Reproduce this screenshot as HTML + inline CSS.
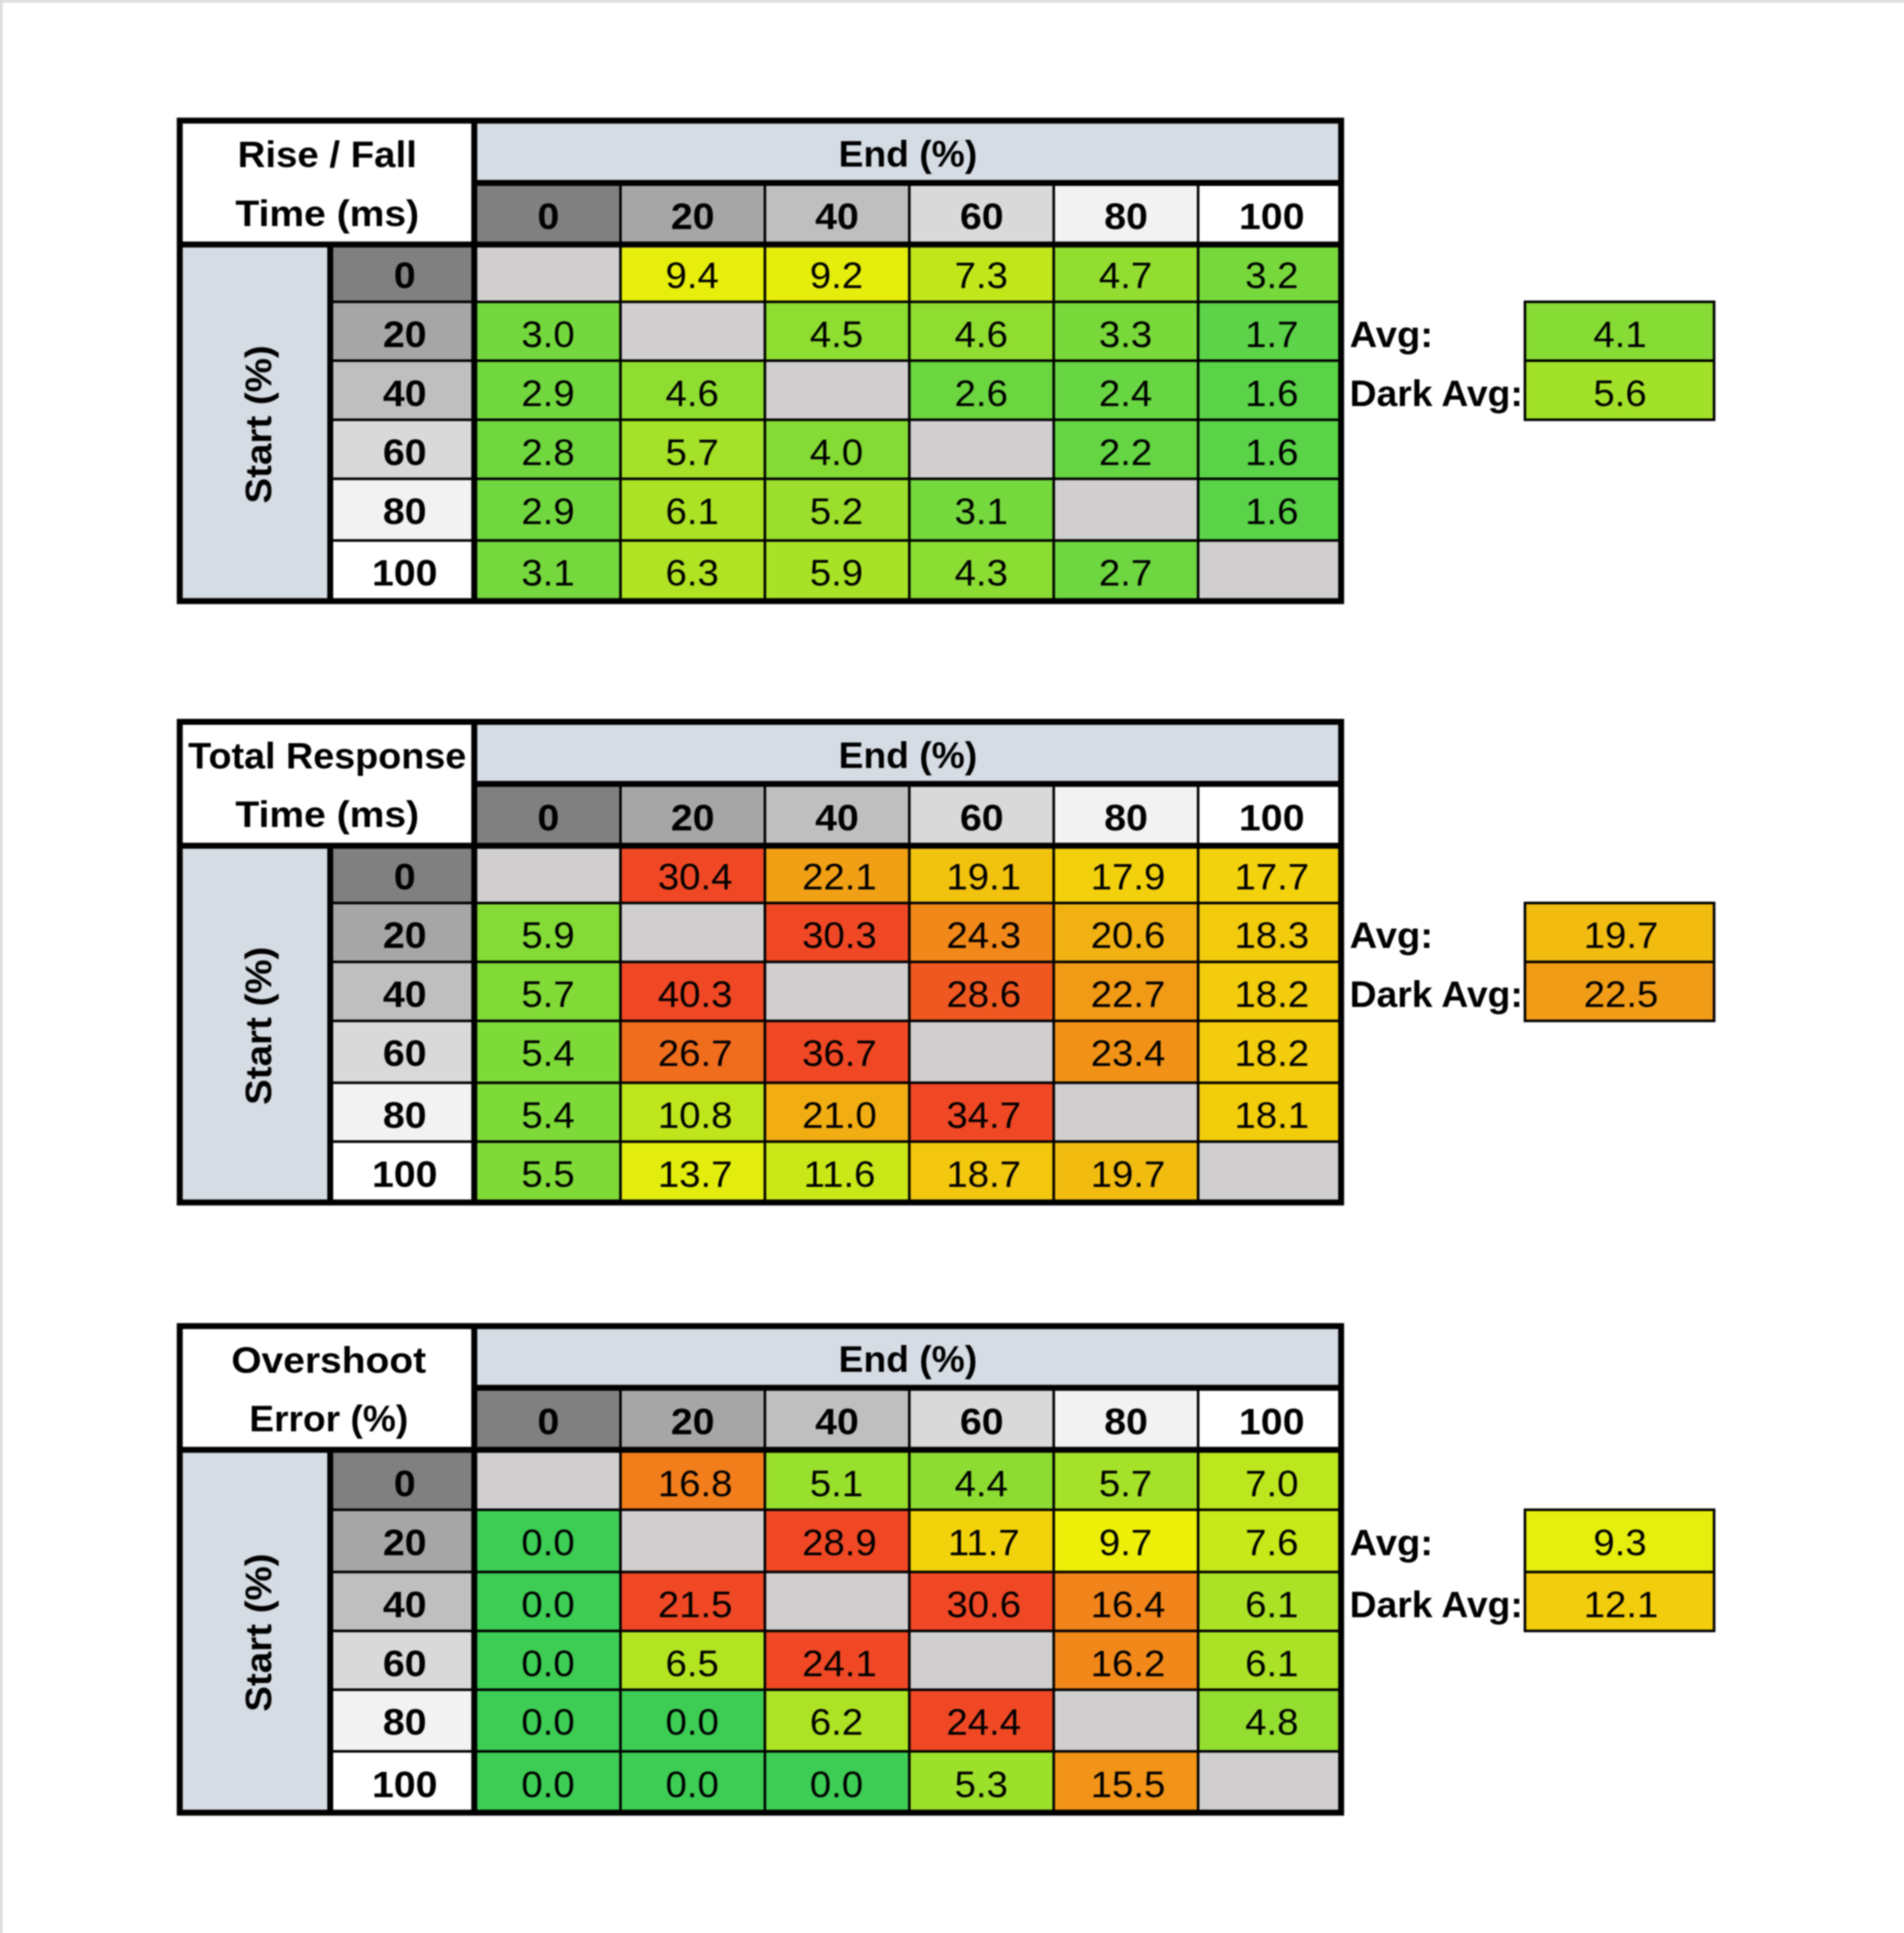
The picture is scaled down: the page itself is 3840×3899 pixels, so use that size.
<!DOCTYPE html>
<html lang="en"><head><meta charset="utf-8"><title>Response time tables</title>
<style>

html,body{margin:0;padding:0;background:#fff}
body{width:3840px;height:3899px;position:relative;overflow:hidden;font-family:"Liberation Sans",Arial,sans-serif;color:#000}
#stage{position:absolute;left:-40px;top:-40px;width:3920px;height:3979px;filter:blur(1.5px)}
#inner{position:absolute;left:40px;top:40px;width:3840px;height:3899px}
svg{position:absolute;left:0;top:0;overflow:visible}
.t{position:absolute;line-height:100px;height:100px;white-space:nowrap;text-align:center;font-size:74px}
.b{font-weight:bold;font-size:74px}
.l{text-align:left;transform-origin:0 50%}


</style></head><body><div id="stage"><div id="inner">
<svg width="3840" height="3899" viewBox="0 0 3840 3899">
<rect x="-40" y="-40" width="3920" height="45.5" fill="#dedede"/>
<rect x="-40" y="-40" width="45.5" height="3979" fill="#dedede"/>
<rect x="356.50" y="237.30" width="2354.30" height="981.20" fill="#000"/>
<rect x="368.50" y="249.30" width="582.00" height="237.90" fill="#fff"/>
<rect x="962.50" y="249.30" width="1736.30" height="113.70" fill="#d6dce4"/>
<rect x="962.50" y="375.00" width="286.30" height="112.20" fill="#808080"/>
<rect x="1254.00" y="375.00" width="286.05" height="112.20" fill="#a6a6a6"/>
<rect x="1545.25" y="375.00" width="286.05" height="112.20" fill="#bfbfbf"/>
<rect x="1836.50" y="375.00" width="286.05" height="112.20" fill="#d9d9d9"/>
<rect x="2127.75" y="375.00" width="286.05" height="112.20" fill="#f2f2f2"/>
<rect x="2419.00" y="375.00" width="279.80" height="112.20" fill="#ffffff"/>
<rect x="368.50" y="499.20" width="291.50" height="707.30" fill="#d6dce4"/>
<rect x="672.00" y="499.20" width="278.50" height="107.00" fill="#808080"/>
<rect x="962.50" y="499.20" width="286.30" height="107.00" fill="#d0cece"/>
<rect x="1254.00" y="499.20" width="286.05" height="107.00" fill="#e7ee0b"/>
<rect x="1545.25" y="499.20" width="286.05" height="107.00" fill="#e4ed0c"/>
<rect x="1836.50" y="499.20" width="286.05" height="107.00" fill="#c1e71b"/>
<rect x="2127.75" y="499.20" width="286.05" height="107.00" fill="#92dd30"/>
<rect x="2419.00" y="499.20" width="279.80" height="107.00" fill="#77d83c"/>
<rect x="672.00" y="611.40" width="278.50" height="113.50" fill="#a6a6a6"/>
<rect x="962.50" y="611.40" width="286.30" height="113.50" fill="#73d83d"/>
<rect x="1254.00" y="611.40" width="286.05" height="113.50" fill="#d0cece"/>
<rect x="1545.25" y="611.40" width="286.05" height="113.50" fill="#8edd31"/>
<rect x="1836.50" y="611.40" width="286.05" height="113.50" fill="#90dd31"/>
<rect x="2127.75" y="611.40" width="286.05" height="113.50" fill="#79d93b"/>
<rect x="2419.00" y="611.40" width="279.80" height="113.50" fill="#5cd348"/>
<rect x="672.00" y="730.10" width="278.50" height="114.00" fill="#bfbfbf"/>
<rect x="962.50" y="730.10" width="286.30" height="114.00" fill="#71d73e"/>
<rect x="1254.00" y="730.10" width="286.05" height="114.00" fill="#90dd31"/>
<rect x="1545.25" y="730.10" width="286.05" height="114.00" fill="#d0cece"/>
<rect x="1836.50" y="730.10" width="286.05" height="114.00" fill="#6cd640"/>
<rect x="2127.75" y="730.10" width="286.05" height="114.00" fill="#68d542"/>
<rect x="2419.00" y="730.10" width="279.80" height="114.00" fill="#5ad348"/>
<rect x="672.00" y="849.30" width="278.50" height="113.90" fill="#d9d9d9"/>
<rect x="962.50" y="849.30" width="286.30" height="113.90" fill="#70d73f"/>
<rect x="1254.00" y="849.30" width="286.05" height="113.90" fill="#a4e128"/>
<rect x="1545.25" y="849.30" width="286.05" height="113.90" fill="#85db35"/>
<rect x="1836.50" y="849.30" width="286.05" height="113.90" fill="#d0cece"/>
<rect x="2127.75" y="849.30" width="286.05" height="113.90" fill="#65d544"/>
<rect x="2419.00" y="849.30" width="279.80" height="113.90" fill="#5ad348"/>
<rect x="672.00" y="968.40" width="278.50" height="119.20" fill="#f2f2f2"/>
<rect x="962.50" y="968.40" width="286.30" height="119.20" fill="#71d73e"/>
<rect x="1254.00" y="968.40" width="286.05" height="119.20" fill="#abe225"/>
<rect x="1545.25" y="968.40" width="286.05" height="119.20" fill="#9bdf2c"/>
<rect x="1836.50" y="968.40" width="286.05" height="119.20" fill="#75d83d"/>
<rect x="2127.75" y="968.40" width="286.05" height="119.20" fill="#d0cece"/>
<rect x="2419.00" y="968.40" width="279.80" height="119.20" fill="#5ad348"/>
<rect x="672.00" y="1092.80" width="278.50" height="113.70" fill="#ffffff"/>
<rect x="962.50" y="1092.80" width="286.30" height="113.70" fill="#75d83d"/>
<rect x="1254.00" y="1092.80" width="286.05" height="113.70" fill="#afe323"/>
<rect x="1545.25" y="1092.80" width="286.05" height="113.70" fill="#a8e226"/>
<rect x="1836.50" y="1092.80" width="286.05" height="113.70" fill="#8bdc33"/>
<rect x="2127.75" y="1092.80" width="286.05" height="113.70" fill="#6ed640"/>
<rect x="2419.00" y="1092.80" width="279.80" height="113.70" fill="#d0cece"/>
<rect x="3072.90" y="606.20" width="386.70" height="243.10" fill="#000"/>
<rect x="3078.10" y="611.40" width="376.30" height="113.50" fill="#87db35"/>
<rect x="3078.10" y="730.10" width="376.30" height="114.00" fill="#a2e129"/>
<rect x="356.50" y="1450.00" width="2354.30" height="981.50" fill="#000"/>
<rect x="368.50" y="1462.00" width="582.00" height="237.90" fill="#fff"/>
<rect x="962.50" y="1462.00" width="1736.30" height="113.20" fill="#d6dce4"/>
<rect x="962.50" y="1587.20" width="286.30" height="112.70" fill="#808080"/>
<rect x="1254.00" y="1587.20" width="286.05" height="112.70" fill="#a6a6a6"/>
<rect x="1545.25" y="1587.20" width="286.05" height="112.70" fill="#bfbfbf"/>
<rect x="1836.50" y="1587.20" width="286.05" height="112.70" fill="#d9d9d9"/>
<rect x="2127.75" y="1587.20" width="286.05" height="112.70" fill="#f2f2f2"/>
<rect x="2419.00" y="1587.20" width="279.80" height="112.70" fill="#ffffff"/>
<rect x="368.50" y="1711.90" width="291.50" height="707.60" fill="#d6dce4"/>
<rect x="672.00" y="1711.90" width="278.50" height="106.90" fill="#808080"/>
<rect x="962.50" y="1711.90" width="286.30" height="106.90" fill="#d0cece"/>
<rect x="1254.00" y="1711.90" width="286.05" height="106.90" fill="#f04825"/>
<rect x="1545.25" y="1711.90" width="286.05" height="106.90" fill="#f1a015"/>
<rect x="1836.50" y="1711.90" width="286.05" height="106.90" fill="#f1c20e"/>
<rect x="2127.75" y="1711.90" width="286.05" height="106.90" fill="#f2d00c"/>
<rect x="2419.00" y="1711.90" width="279.80" height="106.90" fill="#f2d20c"/>
<rect x="672.00" y="1824.00" width="278.50" height="113.60" fill="#a6a6a6"/>
<rect x="962.50" y="1824.00" width="286.30" height="113.60" fill="#84db36"/>
<rect x="1254.00" y="1824.00" width="286.05" height="113.60" fill="#d0cece"/>
<rect x="1545.25" y="1824.00" width="286.05" height="113.60" fill="#f04825"/>
<rect x="1836.50" y="1824.00" width="286.05" height="113.60" fill="#f18819"/>
<rect x="2127.75" y="1824.00" width="286.05" height="113.60" fill="#f1b112"/>
<rect x="2419.00" y="1824.00" width="279.80" height="113.60" fill="#f2cb0d"/>
<rect x="672.00" y="1942.80" width="278.50" height="113.80" fill="#bfbfbf"/>
<rect x="962.50" y="1942.80" width="286.30" height="113.80" fill="#82da37"/>
<rect x="1254.00" y="1942.80" width="286.05" height="113.80" fill="#f04825"/>
<rect x="1545.25" y="1942.80" width="286.05" height="113.80" fill="#d0cece"/>
<rect x="1836.50" y="1942.80" width="286.05" height="113.80" fill="#f05822"/>
<rect x="2127.75" y="1942.80" width="286.05" height="113.80" fill="#f19a16"/>
<rect x="2419.00" y="1942.80" width="279.80" height="113.80" fill="#f2cc0d"/>
<rect x="672.00" y="2061.80" width="278.50" height="119.60" fill="#d9d9d9"/>
<rect x="962.50" y="2061.80" width="286.30" height="119.60" fill="#7eda39"/>
<rect x="1254.00" y="2061.80" width="286.05" height="119.60" fill="#f06d1e"/>
<rect x="1545.25" y="2061.80" width="286.05" height="119.60" fill="#f04825"/>
<rect x="1836.50" y="2061.80" width="286.05" height="119.60" fill="#d0cece"/>
<rect x="2127.75" y="2061.80" width="286.05" height="119.60" fill="#f19217"/>
<rect x="2419.00" y="2061.80" width="279.80" height="119.60" fill="#f2cc0d"/>
<rect x="672.00" y="2186.60" width="278.50" height="113.50" fill="#f2f2f2"/>
<rect x="962.50" y="2186.60" width="286.30" height="113.50" fill="#7eda39"/>
<rect x="1254.00" y="2186.60" width="286.05" height="113.50" fill="#bfe61c"/>
<rect x="1545.25" y="2186.60" width="286.05" height="113.50" fill="#f1ad12"/>
<rect x="1836.50" y="2186.60" width="286.05" height="113.50" fill="#f04825"/>
<rect x="2127.75" y="2186.60" width="286.05" height="113.50" fill="#d0cece"/>
<rect x="2419.00" y="2186.60" width="279.80" height="113.50" fill="#f2cd0c"/>
<rect x="672.00" y="2305.30" width="278.50" height="114.20" fill="#ffffff"/>
<rect x="962.50" y="2305.30" width="286.30" height="114.20" fill="#7fda38"/>
<rect x="1254.00" y="2305.30" width="286.05" height="114.20" fill="#e2ed0d"/>
<rect x="1545.25" y="2305.30" width="286.05" height="114.20" fill="#c9e818"/>
<rect x="1836.50" y="2305.30" width="286.05" height="114.20" fill="#f2c70e"/>
<rect x="2127.75" y="2305.30" width="286.05" height="114.20" fill="#f1bb10"/>
<rect x="2419.00" y="2305.30" width="279.80" height="114.20" fill="#d0cece"/>
<rect x="3072.90" y="1818.80" width="386.70" height="243.00" fill="#000"/>
<rect x="3078.10" y="1824.00" width="376.30" height="113.60" fill="#f1bb10"/>
<rect x="3078.10" y="1942.80" width="376.30" height="113.80" fill="#f19c16"/>
<rect x="356.50" y="2668.80" width="2354.30" height="993.50" fill="#000"/>
<rect x="368.50" y="2680.80" width="582.00" height="237.60" fill="#fff"/>
<rect x="962.50" y="2680.80" width="1736.30" height="112.50" fill="#d6dce4"/>
<rect x="962.50" y="2805.30" width="286.30" height="113.10" fill="#808080"/>
<rect x="1254.00" y="2805.30" width="286.05" height="113.10" fill="#a6a6a6"/>
<rect x="1545.25" y="2805.30" width="286.05" height="113.10" fill="#bfbfbf"/>
<rect x="1836.50" y="2805.30" width="286.05" height="113.10" fill="#d9d9d9"/>
<rect x="2127.75" y="2805.30" width="286.05" height="113.10" fill="#f2f2f2"/>
<rect x="2419.00" y="2805.30" width="279.80" height="113.10" fill="#ffffff"/>
<rect x="368.50" y="2930.40" width="291.50" height="719.90" fill="#d6dce4"/>
<rect x="672.00" y="2930.40" width="278.50" height="112.30" fill="#808080"/>
<rect x="962.50" y="2930.40" width="286.30" height="112.30" fill="#d0cece"/>
<rect x="1254.00" y="2930.40" width="286.05" height="112.30" fill="#f17e1b"/>
<rect x="1545.25" y="2930.40" width="286.05" height="112.30" fill="#99df2d"/>
<rect x="1836.50" y="2930.40" width="286.05" height="112.30" fill="#8ddc32"/>
<rect x="2127.75" y="2930.40" width="286.05" height="112.30" fill="#a4e128"/>
<rect x="2419.00" y="2930.40" width="279.80" height="112.30" fill="#bce61e"/>
<rect x="672.00" y="3047.90" width="278.50" height="120.30" fill="#a6a6a6"/>
<rect x="962.50" y="3047.90" width="286.30" height="120.30" fill="#3dcd55"/>
<rect x="1254.00" y="3047.90" width="286.05" height="120.30" fill="#d0cece"/>
<rect x="1545.25" y="3047.90" width="286.05" height="120.30" fill="#f04825"/>
<rect x="1836.50" y="3047.90" width="286.05" height="120.30" fill="#f2d30b"/>
<rect x="2127.75" y="3047.90" width="286.05" height="120.30" fill="#edef08"/>
<rect x="2419.00" y="3047.90" width="279.80" height="120.30" fill="#c7e819"/>
<rect x="672.00" y="3173.40" width="278.50" height="113.70" fill="#bfbfbf"/>
<rect x="962.50" y="3173.40" width="286.30" height="113.70" fill="#3dcd55"/>
<rect x="1254.00" y="3173.40" width="286.05" height="113.70" fill="#f04825"/>
<rect x="1545.25" y="3173.40" width="286.05" height="113.70" fill="#d0cece"/>
<rect x="1836.50" y="3173.40" width="286.05" height="113.70" fill="#f04825"/>
<rect x="2127.75" y="3173.40" width="286.05" height="113.70" fill="#f1841a"/>
<rect x="2419.00" y="3173.40" width="279.80" height="113.70" fill="#abe225"/>
<rect x="672.00" y="3292.30" width="278.50" height="113.40" fill="#d9d9d9"/>
<rect x="962.50" y="3292.30" width="286.30" height="113.40" fill="#3dcd55"/>
<rect x="1254.00" y="3292.30" width="286.05" height="113.40" fill="#b3e422"/>
<rect x="1545.25" y="3292.30" width="286.05" height="113.40" fill="#f04825"/>
<rect x="1836.50" y="3292.30" width="286.05" height="113.40" fill="#d0cece"/>
<rect x="2127.75" y="3292.30" width="286.05" height="113.40" fill="#f18819"/>
<rect x="2419.00" y="3292.30" width="279.80" height="113.40" fill="#abe225"/>
<rect x="672.00" y="3410.90" width="278.50" height="119.10" fill="#f2f2f2"/>
<rect x="962.50" y="3410.90" width="286.30" height="119.10" fill="#3dcd55"/>
<rect x="1254.00" y="3410.90" width="286.05" height="119.10" fill="#3dcd55"/>
<rect x="1545.25" y="3410.90" width="286.05" height="119.10" fill="#ade324"/>
<rect x="1836.50" y="3410.90" width="286.05" height="119.10" fill="#f04825"/>
<rect x="2127.75" y="3410.90" width="286.05" height="119.10" fill="#d0cece"/>
<rect x="2419.00" y="3410.90" width="279.80" height="119.10" fill="#94de2f"/>
<rect x="672.00" y="3535.20" width="278.50" height="115.10" fill="#ffffff"/>
<rect x="962.50" y="3535.20" width="286.30" height="115.10" fill="#3dcd55"/>
<rect x="1254.00" y="3535.20" width="286.05" height="115.10" fill="#3dcd55"/>
<rect x="1545.25" y="3535.20" width="286.05" height="115.10" fill="#3dcd55"/>
<rect x="1836.50" y="3535.20" width="286.05" height="115.10" fill="#9de02b"/>
<rect x="2127.75" y="3535.20" width="286.05" height="115.10" fill="#f19417"/>
<rect x="2419.00" y="3535.20" width="279.80" height="115.10" fill="#d0cece"/>
<rect x="3072.90" y="3042.70" width="386.70" height="249.60" fill="#000"/>
<rect x="3078.10" y="3047.90" width="376.30" height="120.30" fill="#e5ee0c"/>
<rect x="3078.10" y="3173.40" width="376.30" height="113.70" fill="#f2cd0d"/>
</svg>
<div class="t b" style="left:368.50px;top:261.86px;width:582.00px;transform:scaleX(1.046);">Rise / Fall</div>
<div class="t b" style="left:368.50px;top:380.61px;width:582.00px;transform:scaleX(1.064);">Time (ms)</div>
<div class="t b" style="left:962.50px;top:261.36px;width:1736.30px;transform:scaleX(1.015);">End (%)</div>
<div class="t b" style="left:962.50px;top:387.06px;width:286.30px;transform:scaleX(1.07);">0</div>
<div class="t b" style="left:1254.00px;top:387.06px;width:286.05px;transform:scaleX(1.07);">20</div>
<div class="t b" style="left:1545.25px;top:387.06px;width:286.05px;transform:scaleX(1.07);">40</div>
<div class="t b" style="left:1836.50px;top:387.06px;width:286.05px;transform:scaleX(1.07);">60</div>
<div class="t b" style="left:2127.75px;top:387.06px;width:286.05px;transform:scaleX(1.07);">80</div>
<div class="t b" style="left:2424.50px;top:387.06px;width:279.80px;transform:scaleX(1.07);">100</div>
<div class="t b" style="left:676.50px;top:506.06px;width:278.50px;transform:scaleX(1.07);">0</div>
<div class="t" style="left:1253.00px;top:506.06px;width:286.05px;transform:scaleX(1.045);">9.4</div>
<div class="t" style="left:1544.25px;top:506.06px;width:286.05px;transform:scaleX(1.045);">9.2</div>
<div class="t" style="left:1835.50px;top:506.06px;width:286.05px;transform:scaleX(1.045);">7.3</div>
<div class="t" style="left:2126.75px;top:506.06px;width:286.05px;transform:scaleX(1.045);">4.7</div>
<div class="t" style="left:2424.50px;top:506.06px;width:279.80px;transform:scaleX(1.045);">3.2</div>
<div class="t b" style="left:676.50px;top:624.76px;width:278.50px;transform:scaleX(1.07);">20</div>
<div class="t" style="left:961.50px;top:624.76px;width:286.30px;transform:scaleX(1.045);">3.0</div>
<div class="t" style="left:1544.25px;top:624.76px;width:286.05px;transform:scaleX(1.045);">4.5</div>
<div class="t" style="left:1835.50px;top:624.76px;width:286.05px;transform:scaleX(1.045);">4.6</div>
<div class="t" style="left:2126.75px;top:624.76px;width:286.05px;transform:scaleX(1.045);">3.3</div>
<div class="t" style="left:2424.50px;top:624.76px;width:279.80px;transform:scaleX(1.045);">1.7</div>
<div class="t b l" style="left:2722.00px;top:624.76px;width:353.50px;transform:scaleX(1.039);">Avg:</div>
<div class="t" style="left:3079.10px;top:624.76px;width:376.30px;transform:scaleX(1.045);">4.1</div>
<div class="t b" style="left:676.50px;top:743.96px;width:278.50px;transform:scaleX(1.07);">40</div>
<div class="t" style="left:961.50px;top:743.96px;width:286.30px;transform:scaleX(1.045);">2.9</div>
<div class="t" style="left:1253.00px;top:743.96px;width:286.05px;transform:scaleX(1.045);">4.6</div>
<div class="t" style="left:1835.50px;top:743.96px;width:286.05px;transform:scaleX(1.045);">2.6</div>
<div class="t" style="left:2126.75px;top:743.96px;width:286.05px;transform:scaleX(1.045);">2.4</div>
<div class="t" style="left:2424.50px;top:743.96px;width:279.80px;transform:scaleX(1.045);">1.6</div>
<div class="t b l" style="left:2722.00px;top:743.96px;width:353.50px;transform:scaleX(1.015);">Dark Avg:</div>
<div class="t" style="left:3079.10px;top:743.96px;width:376.30px;transform:scaleX(1.045);">5.6</div>
<div class="t b" style="left:676.50px;top:863.06px;width:278.50px;transform:scaleX(1.07);">60</div>
<div class="t" style="left:961.50px;top:863.06px;width:286.30px;transform:scaleX(1.045);">2.8</div>
<div class="t" style="left:1253.00px;top:863.06px;width:286.05px;transform:scaleX(1.045);">5.7</div>
<div class="t" style="left:1544.25px;top:863.06px;width:286.05px;transform:scaleX(1.045);">4.0</div>
<div class="t" style="left:2126.75px;top:863.06px;width:286.05px;transform:scaleX(1.045);">2.2</div>
<div class="t" style="left:2424.50px;top:863.06px;width:279.80px;transform:scaleX(1.045);">1.6</div>
<div class="t b" style="left:676.50px;top:981.66px;width:278.50px;transform:scaleX(1.07);">80</div>
<div class="t" style="left:961.50px;top:981.66px;width:286.30px;transform:scaleX(1.045);">2.9</div>
<div class="t" style="left:1253.00px;top:981.66px;width:286.05px;transform:scaleX(1.045);">6.1</div>
<div class="t" style="left:1544.25px;top:981.66px;width:286.05px;transform:scaleX(1.045);">5.2</div>
<div class="t" style="left:1835.50px;top:981.66px;width:286.05px;transform:scaleX(1.045);">3.1</div>
<div class="t" style="left:2424.50px;top:981.66px;width:279.80px;transform:scaleX(1.045);">1.6</div>
<div class="t b" style="left:676.50px;top:1106.36px;width:278.50px;transform:scaleX(1.07);">100</div>
<div class="t" style="left:961.50px;top:1106.36px;width:286.30px;transform:scaleX(1.045);">3.1</div>
<div class="t" style="left:1253.00px;top:1106.36px;width:286.05px;transform:scaleX(1.045);">6.3</div>
<div class="t" style="left:1544.25px;top:1106.36px;width:286.05px;transform:scaleX(1.045);">5.9</div>
<div class="t" style="left:1835.50px;top:1106.36px;width:286.05px;transform:scaleX(1.045);">4.3</div>
<div class="t" style="left:2126.75px;top:1106.36px;width:286.05px;transform:scaleX(1.045);">2.7</div>
<div class="t b" style="left:222.36px;top:805.85px;width:600px;transform:rotate(-90deg) scaleX(1.05);">Start (%)</div>
<div class="t b" style="left:368.50px;top:1475.26px;width:582.00px;transform:scaleX(1.028);">Total Response</div>
<div class="t b" style="left:368.50px;top:1593.41px;width:582.00px;transform:scaleX(1.064);">Time (ms)</div>
<div class="t b" style="left:962.50px;top:1473.56px;width:1736.30px;transform:scaleX(1.015);">End (%)</div>
<div class="t b" style="left:962.50px;top:1599.76px;width:286.30px;transform:scaleX(1.07);">0</div>
<div class="t b" style="left:1254.00px;top:1599.76px;width:286.05px;transform:scaleX(1.07);">20</div>
<div class="t b" style="left:1545.25px;top:1599.76px;width:286.05px;transform:scaleX(1.07);">40</div>
<div class="t b" style="left:1836.50px;top:1599.76px;width:286.05px;transform:scaleX(1.07);">60</div>
<div class="t b" style="left:2127.75px;top:1599.76px;width:286.05px;transform:scaleX(1.07);">80</div>
<div class="t b" style="left:2424.50px;top:1599.76px;width:279.80px;transform:scaleX(1.07);">100</div>
<div class="t b" style="left:676.50px;top:1718.66px;width:278.50px;transform:scaleX(1.07);">0</div>
<div class="t" style="left:1258.50px;top:1718.66px;width:286.05px;transform:scaleX(1.045);">30.4</div>
<div class="t" style="left:1549.75px;top:1718.66px;width:286.05px;transform:scaleX(1.045);">22.1</div>
<div class="t" style="left:1841.00px;top:1718.66px;width:286.05px;transform:scaleX(1.045);">19.1</div>
<div class="t" style="left:2132.25px;top:1718.66px;width:286.05px;transform:scaleX(1.045);">17.9</div>
<div class="t" style="left:2424.50px;top:1718.66px;width:279.80px;transform:scaleX(1.045);">17.7</div>
<div class="t b" style="left:676.50px;top:1837.46px;width:278.50px;transform:scaleX(1.07);">20</div>
<div class="t" style="left:961.50px;top:1837.46px;width:286.30px;transform:scaleX(1.045);">5.9</div>
<div class="t" style="left:1549.75px;top:1837.46px;width:286.05px;transform:scaleX(1.045);">30.3</div>
<div class="t" style="left:1841.00px;top:1837.46px;width:286.05px;transform:scaleX(1.045);">24.3</div>
<div class="t" style="left:2132.25px;top:1837.46px;width:286.05px;transform:scaleX(1.045);">20.6</div>
<div class="t" style="left:2424.50px;top:1837.46px;width:279.80px;transform:scaleX(1.045);">18.3</div>
<div class="t b l" style="left:2722.00px;top:1837.46px;width:353.50px;transform:scaleX(1.039);">Avg:</div>
<div class="t" style="left:3081.10px;top:1837.46px;width:376.30px;transform:scaleX(1.045);">19.7</div>
<div class="t b" style="left:676.50px;top:1956.46px;width:278.50px;transform:scaleX(1.07);">40</div>
<div class="t" style="left:961.50px;top:1956.46px;width:286.30px;transform:scaleX(1.045);">5.7</div>
<div class="t" style="left:1258.50px;top:1956.46px;width:286.05px;transform:scaleX(1.045);">40.3</div>
<div class="t" style="left:1841.00px;top:1956.46px;width:286.05px;transform:scaleX(1.045);">28.6</div>
<div class="t" style="left:2132.25px;top:1956.46px;width:286.05px;transform:scaleX(1.045);">22.7</div>
<div class="t" style="left:2424.50px;top:1956.46px;width:279.80px;transform:scaleX(1.045);">18.2</div>
<div class="t b l" style="left:2722.00px;top:1956.46px;width:353.50px;transform:scaleX(1.015);">Dark Avg:</div>
<div class="t" style="left:3081.10px;top:1956.46px;width:376.30px;transform:scaleX(1.045);">22.5</div>
<div class="t b" style="left:676.50px;top:2075.46px;width:278.50px;transform:scaleX(1.07);">60</div>
<div class="t" style="left:961.50px;top:2075.46px;width:286.30px;transform:scaleX(1.045);">5.4</div>
<div class="t" style="left:1258.50px;top:2075.46px;width:286.05px;transform:scaleX(1.045);">26.7</div>
<div class="t" style="left:1549.75px;top:2075.46px;width:286.05px;transform:scaleX(1.045);">36.7</div>
<div class="t" style="left:2132.25px;top:2075.46px;width:286.05px;transform:scaleX(1.045);">23.4</div>
<div class="t" style="left:2424.50px;top:2075.46px;width:279.80px;transform:scaleX(1.045);">18.2</div>
<div class="t b" style="left:676.50px;top:2199.96px;width:278.50px;transform:scaleX(1.07);">80</div>
<div class="t" style="left:961.50px;top:2199.96px;width:286.30px;transform:scaleX(1.045);">5.4</div>
<div class="t" style="left:1258.50px;top:2199.96px;width:286.05px;transform:scaleX(1.045);">10.8</div>
<div class="t" style="left:1549.75px;top:2199.96px;width:286.05px;transform:scaleX(1.045);">21.0</div>
<div class="t" style="left:1841.00px;top:2199.96px;width:286.05px;transform:scaleX(1.045);">34.7</div>
<div class="t" style="left:2424.50px;top:2199.96px;width:279.80px;transform:scaleX(1.045);">18.1</div>
<div class="t b" style="left:676.50px;top:2319.36px;width:278.50px;transform:scaleX(1.07);">100</div>
<div class="t" style="left:961.50px;top:2319.36px;width:286.30px;transform:scaleX(1.045);">5.5</div>
<div class="t" style="left:1258.50px;top:2319.36px;width:286.05px;transform:scaleX(1.045);">13.7</div>
<div class="t" style="left:1549.75px;top:2319.36px;width:286.05px;transform:scaleX(1.045);">11.6</div>
<div class="t" style="left:1841.00px;top:2319.36px;width:286.05px;transform:scaleX(1.045);">18.7</div>
<div class="t" style="left:2132.25px;top:2319.36px;width:286.05px;transform:scaleX(1.045);">19.7</div>
<div class="t b" style="left:222.36px;top:2018.70px;width:600px;transform:rotate(-90deg) scaleX(1.05);">Start (%)</div>
<div class="t b" style="left:372.00px;top:2693.66px;width:582.00px;transform:scaleX(1.062);">Overshoot</div>
<div class="t b" style="left:372.00px;top:2811.66px;width:582.00px;transform:scaleX(1.013);">Error (%)</div>
<div class="t b" style="left:962.50px;top:2691.66px;width:1736.30px;transform:scaleX(1.015);">End (%)</div>
<div class="t b" style="left:962.50px;top:2818.26px;width:286.30px;transform:scaleX(1.07);">0</div>
<div class="t b" style="left:1254.00px;top:2818.26px;width:286.05px;transform:scaleX(1.07);">20</div>
<div class="t b" style="left:1545.25px;top:2818.26px;width:286.05px;transform:scaleX(1.07);">40</div>
<div class="t b" style="left:1836.50px;top:2818.26px;width:286.05px;transform:scaleX(1.07);">60</div>
<div class="t b" style="left:2127.75px;top:2818.26px;width:286.05px;transform:scaleX(1.07);">80</div>
<div class="t b" style="left:2424.50px;top:2818.26px;width:279.80px;transform:scaleX(1.07);">100</div>
<div class="t b" style="left:676.50px;top:2942.56px;width:278.50px;transform:scaleX(1.07);">0</div>
<div class="t" style="left:1258.50px;top:2942.56px;width:286.05px;transform:scaleX(1.045);">16.8</div>
<div class="t" style="left:1544.25px;top:2942.56px;width:286.05px;transform:scaleX(1.045);">5.1</div>
<div class="t" style="left:1835.50px;top:2942.56px;width:286.05px;transform:scaleX(1.045);">4.4</div>
<div class="t" style="left:2126.75px;top:2942.56px;width:286.05px;transform:scaleX(1.045);">5.7</div>
<div class="t" style="left:2424.50px;top:2942.56px;width:279.80px;transform:scaleX(1.045);">7.0</div>
<div class="t b" style="left:676.50px;top:3062.26px;width:278.50px;transform:scaleX(1.07);">20</div>
<div class="t" style="left:961.50px;top:3062.26px;width:286.30px;transform:scaleX(1.045);">0.0</div>
<div class="t" style="left:1549.75px;top:3062.26px;width:286.05px;transform:scaleX(1.045);">28.9</div>
<div class="t" style="left:1841.00px;top:3062.26px;width:286.05px;transform:scaleX(1.045);">11.7</div>
<div class="t" style="left:2126.75px;top:3062.26px;width:286.05px;transform:scaleX(1.045);">9.7</div>
<div class="t" style="left:2424.50px;top:3062.26px;width:279.80px;transform:scaleX(1.045);">7.6</div>
<div class="t b l" style="left:2722.00px;top:3062.26px;width:353.50px;transform:scaleX(1.039);">Avg:</div>
<div class="t" style="left:3079.10px;top:3062.26px;width:376.30px;transform:scaleX(1.045);">9.3</div>
<div class="t b" style="left:676.50px;top:3186.96px;width:278.50px;transform:scaleX(1.07);">40</div>
<div class="t" style="left:961.50px;top:3186.96px;width:286.30px;transform:scaleX(1.045);">0.0</div>
<div class="t" style="left:1258.50px;top:3186.96px;width:286.05px;transform:scaleX(1.045);">21.5</div>
<div class="t" style="left:1841.00px;top:3186.96px;width:286.05px;transform:scaleX(1.045);">30.6</div>
<div class="t" style="left:2132.25px;top:3186.96px;width:286.05px;transform:scaleX(1.045);">16.4</div>
<div class="t" style="left:2424.50px;top:3186.96px;width:279.80px;transform:scaleX(1.045);">6.1</div>
<div class="t b l" style="left:2722.00px;top:3186.96px;width:353.50px;transform:scaleX(1.015);">Dark Avg:</div>
<div class="t" style="left:3081.10px;top:3186.96px;width:376.30px;transform:scaleX(1.045);">12.1</div>
<div class="t b" style="left:676.50px;top:3305.56px;width:278.50px;transform:scaleX(1.07);">60</div>
<div class="t" style="left:961.50px;top:3305.56px;width:286.30px;transform:scaleX(1.045);">0.0</div>
<div class="t" style="left:1253.00px;top:3305.56px;width:286.05px;transform:scaleX(1.045);">6.5</div>
<div class="t" style="left:1549.75px;top:3305.56px;width:286.05px;transform:scaleX(1.045);">24.1</div>
<div class="t" style="left:2132.25px;top:3305.56px;width:286.05px;transform:scaleX(1.045);">16.2</div>
<div class="t" style="left:2424.50px;top:3305.56px;width:279.80px;transform:scaleX(1.045);">6.1</div>
<div class="t b" style="left:676.50px;top:3424.06px;width:278.50px;transform:scaleX(1.07);">80</div>
<div class="t" style="left:961.50px;top:3424.06px;width:286.30px;transform:scaleX(1.045);">0.0</div>
<div class="t" style="left:1253.00px;top:3424.06px;width:286.05px;transform:scaleX(1.045);">0.0</div>
<div class="t" style="left:1544.25px;top:3424.06px;width:286.05px;transform:scaleX(1.045);">6.2</div>
<div class="t" style="left:1841.00px;top:3424.06px;width:286.05px;transform:scaleX(1.045);">24.4</div>
<div class="t" style="left:2424.50px;top:3424.06px;width:279.80px;transform:scaleX(1.045);">4.8</div>
<div class="t b" style="left:676.50px;top:3550.16px;width:278.50px;transform:scaleX(1.07);">100</div>
<div class="t" style="left:961.50px;top:3550.16px;width:286.30px;transform:scaleX(1.045);">0.0</div>
<div class="t" style="left:1253.00px;top:3550.16px;width:286.05px;transform:scaleX(1.045);">0.0</div>
<div class="t" style="left:1544.25px;top:3550.16px;width:286.05px;transform:scaleX(1.045);">0.0</div>
<div class="t" style="left:1835.50px;top:3550.16px;width:286.05px;transform:scaleX(1.045);">5.3</div>
<div class="t" style="left:2132.25px;top:3550.16px;width:286.05px;transform:scaleX(1.045);">15.5</div>
<div class="t b" style="left:222.36px;top:3243.35px;width:600px;transform:rotate(-90deg) scaleX(1.05);">Start (%)</div>
</div></div></body></html>
